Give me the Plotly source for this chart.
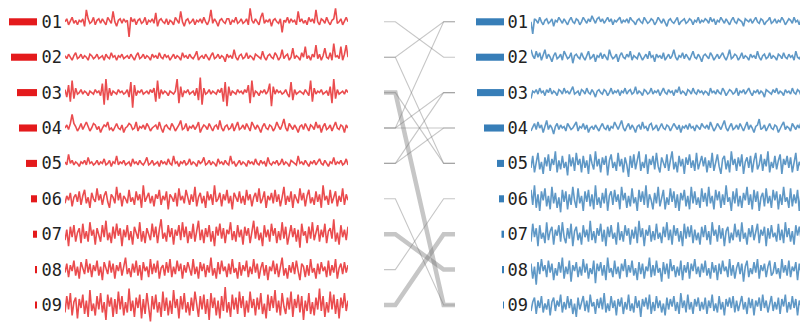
import plotly.graph_objects as go

labels = ["01", "02", "03", "04", "05", "06", "07", "08", "09"]
rows = [1, 2, 3, 4, 5, 6, 7, 8, 9]

left_bar = [28, 26, 20, 18, 11, 6, 4, 2, 1.3]
right_bar = [28, 28, 27, 20, 7, 5, 2.5, 2, 1]

# links between the left ranking and the right ranking
edge_left = [1, 2, 2, 3, 3, 4, 4, 4, 5, 5, 6, 7, 8, 9]
edge_right = [2, 1, 5, 9, 5, 1, 3, 4, 3, 4, 9, 8, 6, 7]
edge_weight = [1, 1, 1, 3, 1, 1, 1, 1, 1, 1, 1, 3, 1, 3]

L01 = [0,2,-2,1,3,-1,1,-2,1,0,2,-3,8,2,-1,0,3,-2,1,2,
       -1,2,0,-2,3,1,-1,7,0,-3,1,2,-1,2,0,1,-10,3,0,2,
       -2,1,2,-1,0,3,-2,1,0,2,-1,6,-3,1,2,0,-1,2,-2,1,
       0,-2,3,1,-1,7,0,-3,1,2,-1,0,2,-2,1,0,2,-1,3,0,
       -2,1,8,-1,2,0,-3,1,2,0,-1,2,2,-2,1,0,3,-1,0,2,
       -1,0,2,-2,9,1,-1,2,0,-2,3,6,-1,1,0,2,-3,1,2,0,
       -1,2,-7,1,0,3,-1,2,0,1,-2,7,0,2,-1,1,-2,3,0,2,
       -1,8,0,-2,2,1,-1,3,0,-2,1,2,9,-1,0,2,-2,1,3,0]
L02 = [1,-1,2,0,-2,1,3,-1,0,2,-1,1,0,-2,2,1,-1,0,2,-1,
       0,1,-2,2,0,-1,3,0,1,-2,1,0,2,-1,0,1,-1,2,0,-2,
       1,3,-1,0,2,-1,1,0,-2,2,0,1,-1,3,0,-1,2,0,1,-2,
       0,2,-1,1,0,-2,3,0,1,-1,2,0,-1,1,4,-2,0,1,-1,2,
       0,-2,1,3,-1,0,2,-1,1,0,-3,2,0,1,-1,5,0,-2,1,2,
       -1,0,3,-1,1,0,-2,2,1,0,-1,4,0,-2,1,2,0,-1,3,1,
       -2,0,5,-1,1,2,-2,0,6,-1,1,0,-2,3,0,7,-1,1,-2,2,
       0,8,-1,2,-2,1,6,0,-1,3,-2,9,0,1,-1,7,-2,2,8,0]
L03 = [2,-3,5,-6,8,-4,3,-1,0,2,-1,1,0,-2,1,0,-1,2,0,1,
       -2,6,-8,9,-5,3,-2,1,0,-1,2,0,1,-1,0,2,-3,7,-10,5,
       -2,1,0,2,-1,0,1,-1,2,0,3,-6,8,-4,2,-1,1,0,-2,1,
       0,-1,1,9,-7,4,-3,1,0,2,-1,0,1,-2,3,-5,10,-8,3,-1,
       0,2,-1,1,0,-1,2,0,3,-6,7,-9,4,-2,1,0,-1,2,0,1,
       -1,2,0,5,-7,8,-3,1,0,-2,1,0,2,-1,1,6,-9,4,-1,2,
       0,1,-1,0,2,-1,-3,7,-5,2,-1,0,1,0,-1,2,0,-2,8,-6,
       3,-1,1,0,2,-1,0,1,-2,4,-7,9,-4,2,-1,0,1,-1,2,0]
L04 = [0,2,-1,3,9,3,1,-2,0,3,-1,2,4,1,-2,0,3,2,-1,1,
       -3,0,2,1,4,-1,0,-2,1,3,0,-1,2,-3,0,1,3,2,-1,0,
       4,-2,1,0,2,-1,3,1,-2,0,1,2,-1,4,0,-3,1,2,0,-1,
       3,1,-2,0,2,5,-1,0,3,-2,1,0,2,-1,1,4,-3,0,2,1,
       -1,3,0,-2,1,2,-1,5,0,-2,1,2,-1,0,3,-2,1,4,-1,0,
       2,-1,3,0,-2,4,1,-1,2,0,-3,1,3,0,-1,2,1,-2,0,4,
       1,-1,2,6,0,-2,3,1,-1,2,0,-3,1,2,-1,3,0,-2,2,1,
       -1,4,0,2,-3,1,3,-1,0,2,-2,1,4,0,-1,2,1,-3,2,0]
L05 = [1,-1,6,0,2,-1,1,0,-2,1,0,2,-1,4,0,1,-1,0,2,-1,
       1,0,3,-1,0,2,-2,1,0,5,-1,1,0,2,-1,0,1,-2,3,0,
       1,-1,2,0,-1,1,4,-1,0,2,-1,0,1,-2,2,0,1,-1,3,0,
       -1,5,0,1,-2,1,0,2,-1,0,3,-1,1,0,-2,2,0,1,4,-1,
       0,2,-1,1,0,-2,3,0,1,-1,2,0,-1,5,0,1,-2,0,2,-1,
       1,0,-2,2,0,1,-1,3,0,-1,2,0,1,-2,4,0,-1,1,0,2,
       -1,0,3,-1,1,0,-2,2,1,0,-1,5,0,1,-1,2,0,-2,1,0,
       2,-1,1,3,0,-1,2,0,-2,1,0,4,-1,1,0,2,-1,0,3,-1]
L06 = [-3,2,-1,4,-5,1,3,-2,5,-4,2,6,-3,1,-6,4,0,-2,7,-1,
       3,-4,2,5,-2,-6,3,1,-3,8,-1,4,-5,2,0,-3,6,-2,1,-4,
       5,-1,3,-6,9,-2,1,4,-3,2,-5,3,0,6,-4,2,-1,5,-7,3,
       1,-2,4,-5,7,-1,2,-3,6,0,-4,3,-2,8,-5,1,4,-3,2,-6,
       5,-1,3,-4,9,-2,0,4,-5,3,-1,6,-3,2,-7,4,1,-2,5,-3,
       2,-4,6,-1,3,-5,1,4,-2,7,-3,0,5,-6,2,-1,4,-3,6,-2,
       3,-5,1,8,-4,2,-2,5,-6,3,0,-3,7,-1,4,-5,2,6,-3,1,
       -4,5,-2,3,-6,9,-1,2,-4,6,-3,1,5,-5,2,-2,7,-4,3,-1]
L07 = [-4,3,-8,5,-2,6,-5,1,4,-6,7,-3,2,-5,8,-1,3,-7,4,0,
       -5,6,-2,9,-4,1,-6,5,-3,7,-1,4,-8,3,-2,6,-4,2,-7,5,
       1,-3,8,-5,2,-6,4,0,-4,7,-2,5,-6,3,10,-3,1,-5,6,-2,
       4,-7,3,-1,6,-4,8,-2,5,-6,2,-3,7,-5,1,9,-4,3,-6,4,
       -2,6,-5,2,-8,5,-1,7,-3,4,-6,3,0,8,-4,2,-5,6,-2,3,
       -7,5,-1,4,-6,2,9,-3,5,-4,1,-8,6,-2,3,-5,7,-1,4,-6,
       2,-4,8,-3,5,-7,1,6,-2,4,-5,3,-9,7,-1,2,-6,5,-3,8,
       -4,1,6,-5,3,-2,7,-6,2,4,-3,10,-5,1,-7,6,-2,3,-4,5]
L08 = [-2,4,-5,3,-1,6,-4,2,-6,5,1,-3,7,-2,4,-5,3,-1,6,-4,
       2,-7,5,0,-3,6,-2,4,-6,3,-1,5,-4,2,8,-3,1,-5,4,-2,
       6,-4,3,-7,5,-1,2,-5,7,-3,4,-2,6,-6,1,3,-4,5,-2,7,
       -5,2,-3,6,-1,4,-6,3,-2,5,0,-4,7,-3,2,-6,5,-1,4,-5,
       3,-2,8,-4,1,-6,5,-3,6,-1,2,-5,4,-3,7,-2,1,-6,5,-4,
       3,-1,6,-5,2,-3,7,-2,4,-6,1,5,-4,3,-7,2,-1,6,-3,4,
       -5,2,8,-4,1,-6,3,-2,5,-3,6,-1,-7,4,2,-5,3,-4,7,-2,
       1,-6,4,-3,5,-1,2,-5,6,-4,3,-2,7,-6,1,4,-3,5,-2,3]
L09 = [-5,6,-3,8,-7,2,5,-9,4,-2,7,-6,3,-8,10,-4,1,-7,6,-3,
       8,-5,2,-10,7,-1,5,-8,4,-6,9,-3,6,-7,2,-5,11,-4,3,-8,
       5,-2,7,-9,4,-6,8,-1,-11,6,-3,7,-5,2,-8,9,-4,5,-7,3,
       -6,10,-2,4,-9,6,-3,8,-5,2,-7,5,-4,9,-1,-8,6,-3,7,-6,
       4,-10,8,-2,5,-7,3,-9,6,-4,12,-5,2,-8,7,-3,5,-6,9,-2,
       6,-8,3,-5,9,-2,4,-7,5,-3,8,-6,1,-9,7,-4,6,-2,10,-5,
       3,-7,8,-1,-6,5,-3,9,-8,4,-2,7,-5,6,-10,3,-4,8,-6,2,
       -7,5,-3,11,-4,6,-8,2,-5,9,-3,7,-6,4,-9,5,-2,8,-4,3]

R01 = [0,-8,2,1,-1,3,0,-2,1,2,-1,0,2,-3,1,0,3,1,-1,2,
       0,-2,1,3,0,-1,2,1,-2,0,3,1,-1,2,0,4,1,-1,2,3,
       0,2,-1,1,3,0,2,-2,1,0,2,3,-1,1,0,2,-1,3,1,0,
       -2,1,2,0,-1,3,1,-1,0,2,1,-2,0,3,1,-1,2,0,-3,1,
       2,0,-1,1,3,-2,0,1,2,-1,0,2,1,-2,1,0,3,-1,1,0,
       2,1,-1,3,0,2,-2,1,0,3,1,-1,2,0,-2,1,3,0,-1,2,
       1,0,-3,2,1,0,2,-1,1,3,0,-1,2,1,-2,0,1,3,-1,0,
       2,-1,1,0,3,1,-2,0,2,1,-1,3,0,1,-2,2,0,1,-1,0]
R02 = [5,1,-1,4,0,3,-2,1,5,-1,2,0,-3,1,3,-1,0,2,-2,4,
       1,-1,0,3,-4,1,2,0,-1,3,0,-2,1,4,-1,0,2,-3,1,0,
       3,-1,2,0,-2,5,1,-1,0,2,-3,1,3,0,-1,2,0,4,-2,1,
       0,-1,3,1,-2,0,2,-1,4,0,1,-3,2,0,1,-1,3,-2,0,2,
       -1,1,5,0,-2,1,0,3,-1,2,0,-2,1,4,0,-1,2,0,-3,1,
       2,0,-1,3,1,-2,0,2,-1,1,3,0,-2,1,5,-1,0,2,1,-2,
       0,3,-1,1,0,-2,2,0,1,-1,4,0,-2,1,2,-1,0,3,-1,1,
       0,-2,2,1,-1,3,0,-1,2,0,1,-2,4,0,-1,1,2,-1,0,2]
R03 = [-4,1,0,2,-1,3,0,1,-2,2,0,3,-1,1,0,-2,2,1,-1,3,
       0,1,-1,2,4,-1,0,1,-2,2,1,-1,3,0,-1,2,0,-3,1,2,
       0,-1,2,1,-2,0,3,-1,1,0,2,-2,1,0,3,-1,1,2,-1,0,
       4,-1,1,0,-2,2,1,-1,0,3,-1,1,0,2,-2,1,3,0,-1,2,
       0,1,-2,2,0,4,-1,1,0,-2,2,1,-1,3,0,-1,2,0,1,-1,
       1,0,-2,3,0,1,-1,2,0,-1,3,1,-2,0,2,1,-1,0,3,-2,
       1,0,2,-1,1,3,0,-2,1,0,2,-1,1,0,-3,2,1,0,-1,2,
       0,3,-1,1,0,-2,2,0,1,-1,3,0,-1,2,1,-2,0,1,2,-1]
R04 = [-2,1,3,-1,4,0,2,-3,1,5,-1,2,0,-4,1,3,-1,2,0,1,
       -2,3,1,-1,0,2,4,-2,1,0,3,-1,2,-3,0,1,-1,2,0,-2,
       1,3,0,-1,2,-2,1,0,4,1,-1,2,5,0,-2,1,3,-1,2,0,
       -3,1,2,-1,4,0,1,-2,2,3,-1,0,2,-2,1,3,0,-1,2,1,
       -2,0,3,1,-1,2,-3,1,0,2,-1,3,0,1,-2,2,0,-1,3,1,
       0,2,-1,4,1,-2,0,3,1,-1,2,5,0,-2,1,3,-1,0,2,-1,
       3,0,-2,1,4,-1,2,0,-3,1,2,6,-1,0,2,-2,1,3,0,-1,
       2,1,-3,0,2,4,-1,1,0,-2,3,1,-1,2,0,4,-2,1,0,2]
R05 = [-3,5,-6,2,7,-4,1,-7,4,-2,6,-5,3,-1,8,-6,2,-4,5,-3,
       1,-8,6,-2,4,-5,7,-1,3,-6,5,-3,2,-7,6,0,-4,8,-2,3,
       -6,4,-1,5,-8,2,6,-3,1,-5,7,-2,3,-6,4,-1,-9,5,-3,6,
       -4,2,8,-5,1,-3,6,-7,3,-1,5,-4,7,-2,-6,4,0,-3,6,-5,
       2,8,-4,1,-6,5,-2,3,-7,4,-1,6,-3,2,-5,7,-4,1,5,-2,
       4,-6,2,-3,7,-5,1,6,-2,-7,3,5,-4,2,-6,8,-1,3,-5,4,
       -2,6,-7,1,4,-3,5,-6,2,7,-4,-1,6,-5,3,-2,8,-6,1,-3,
       5,-4,2,6,-7,3,-1,5,-3,4,-6,2,7,-5,1,-2,6,-4,3,-5]
R06 = [6,-4,9,-6,3,-8,5,-1,7,-5,2,-7,8,-3,4,-6,1,-9,6,-2,
       5,-7,3,-4,8,-1,-6,7,-3,2,-8,5,-2,6,-5,3,-7,9,-4,1,
       -6,4,-3,7,-8,2,5,-4,6,-2,3,-7,8,-1,4,-6,2,-5,7,-3,
       1,-8,6,-2,5,-4,9,-6,3,-1,-7,4,-3,8,-5,2,6,-7,1,-4,
       7,-2,5,-6,3,-8,4,-1,6,-5,2,-7,8,-3,5,-4,1,-6,7,-2,
       4,-5,8,-3,2,-7,6,-1,5,-6,3,-4,9,-2,1,-8,5,-3,7,-5,
       2,-6,4,-1,8,-4,3,-7,6,-2,5,-8,1,4,-5,7,-3,2,-6,6,
       -1,5,-7,3,-4,8,-2,1,-6,7,-5,3,-3,6,-8,4,-1,5,-4,2]
R07 = [-5,7,-2,4,-8,6,-3,1,-6,8,-4,2,5,-7,3,-1,6,-5,8,-2,
       -6,4,-3,7,-8,2,5,-4,1,-7,6,-2,3,-5,9,-4,2,-6,4,-1,
       7,-5,3,-8,5,-2,6,-3,1,-7,8,-4,2,-5,6,-1,4,-7,3,-3,
       5,-6,9,-2,4,-8,3,-1,6,-5,2,-4,7,-3,1,-6,5,-2,8,-4,
       3,-7,6,-1,4,-5,2,-8,7,-3,5,-2,6,-6,3,-4,1,-7,5,-2,
       6,-4,2,-7,8,-1,3,-5,6,-3,4,-8,2,5,-6,1,-4,7,-2,3,
       -5,8,-3,1,-7,4,-2,6,-4,2,7,-6,3,-1,5,-8,4,-3,6,-2,
       1,-5,7,-4,3,-6,8,-2,4,-5,2,-7,6,-1,5,-3,2,-6,7,-4]
R08 = [4,-6,2,-10,5,-3,7,-1,3,-5,6,-2,4,-7,1,-4,5,-2,8,-6,
       2,-3,6,-8,3,-1,5,-5,2,-4,7,-2,4,-6,1,-3,6,-9,4,-1,
       5,-4,3,-7,8,-2,1,-5,6,-3,2,-6,4,-1,7,-5,3,-2,6,-4,
       1,-7,5,-3,4,-6,2,-1,8,-5,3,-4,6,-2,1,-8,5,-3,4,-6,
       7,-1,3,-5,2,-4,6,-7,3,-2,5,-6,4,-1,7,-3,2,-5,4,-2,
       6,-4,1,-6,5,-2,3,-7,4,-3,6,-1,2,-5,7,-4,3,-6,1,5,
       -3,4,-8,2,6,-5,1,-3,5,-2,7,-6,3,-1,4,-5,2,6,-4,-2,
       5,-3,1,-6,7,-2,3,-4,6,-5,2,-1,5,-7,4,-2,3,-5,6,-3]
R09 = [-4,2,5,-6,3,-2,6,-5,1,-3,4,-7,2,5,-4,3,-1,7,-5,2,
       -3,6,-2,4,-6,1,-8,5,-3,2,6,-4,3,-5,7,-1,2,-6,4,-2,
       5,-3,8,-5,1,-4,6,-2,3,-7,4,-1,5,-6,2,-3,7,-4,1,-5,
       6,-2,3,-8,4,-1,5,-3,7,-6,2,-4,6,-2,3,-5,1,-7,5,-3,
       4,-1,6,-4,2,-6,8,-2,3,-5,7,-3,2,-6,4,-1,5,-4,2,-3,
       5,-6,3,-2,7,-4,1,-5,6,-3,2,-7,4,-1,5,-2,6,-5,3,-4,
       1,6,-3,2,-6,5,-2,4,-7,3,-1,5,-4,7,-2,3,-5,1,6,-4,
       2,-3,5,-6,4,-1,7,-5,2,-3,6,-2,4,-7,3,-1,5,-4,2,-2]

left_series = [L01, L02, L03, L04, L05, L06, L07, L08, L09]
right_series = [R01, R02, R03, R04, R05, R06, R07, R08, R09]

# the page body has an 8px default margin, so the figure is 800x314
W, H = 800, 314
AMP = 1.5 / 35.4  # signal unit -> row units

RED_BAR = "#e41a1c"
RED_LINE = "rgba(228,26,28,0.78)"
BLUE_BAR = "#377eb8"
BLUE_LINE = "rgba(55,126,184,0.8)"
EDGE = "rgba(120,120,120,0.42)"
FONT = "DejaVu Sans Mono"
LW = 1.6

fig = go.Figure()

for r, s in zip(rows, left_series):
    fig.add_trace(go.Scatter(x=list(range(len(s))), y=[r - v * AMP for v in s],
                             mode="lines", line=dict(color=RED_LINE, width=LW),
                             xaxis="x", yaxis="y", hoverinfo="skip"))
for r, s in zip(rows, right_series):
    fig.add_trace(go.Scatter(x=list(range(len(s))), y=[r - v * AMP for v in s],
                             mode="lines", line=dict(color=BLUE_LINE, width=LW),
                             xaxis="x4", yaxis="y2", hoverinfo="skip"))

fig.add_trace(go.Bar(x=left_bar, y=rows, orientation="h", width=0.2,
                     marker=dict(color=RED_BAR, line=dict(width=0)),
                     xaxis="x2", yaxis="y", hoverinfo="skip"))
fig.add_trace(go.Bar(x=right_bar, y=rows, orientation="h", width=0.2,
                     marker=dict(color=BLUE_BAR, line=dict(width=0)),
                     xaxis="x5", yaxis="y2", hoverinfo="skip"))

for a, b, w in zip(edge_left, edge_right, edge_weight):
    fig.add_trace(go.Scatter(x=[0, 0.16, 0.84, 1], y=[a, a, b, b], mode="lines",
                             line=dict(color=EDGE, width=1.1 if w == 1 else 4.5),
                             xaxis="x3", yaxis="y", hoverinfo="skip"))

hidden = dict(visible=False, showgrid=False, zeroline=False, fixedrange=True)
ycommon = dict(range=[9.48, 0.61], tickvals=rows, ticktext=labels, showgrid=False,
               zeroline=False, showline=False, ticks="",
               tickfont=dict(family=FONT, size=17, color="#222222"),
               ticklabelstandoff=2)

n = len(L01) - 1
fig.update_layout(
    width=W, height=H, margin=dict(l=0, r=0, t=0, b=0),
    paper_bgcolor="white", plot_bgcolor="white", showlegend=False,
    xaxis=dict(domain=[57 / W, 340 / W], range=[0, n], **hidden),
    xaxis2=dict(domain=[0, 29 / W], range=[29, 0], **hidden),
    xaxis3=dict(domain=[376 / W, 447 / W], range=[0, 1], **hidden),
    xaxis4=dict(domain=[523 / W, 1.0], range=[0, n], **hidden),
    xaxis5=dict(domain=[467 / W, 496 / W], range=[29, 0], **hidden),
    yaxis=dict(domain=[0, 1], anchor="x", **ycommon),
    yaxis2=dict(domain=[0, 1], anchor="x4", matches="y", **ycommon),
)

fig.write_html("out.html")
